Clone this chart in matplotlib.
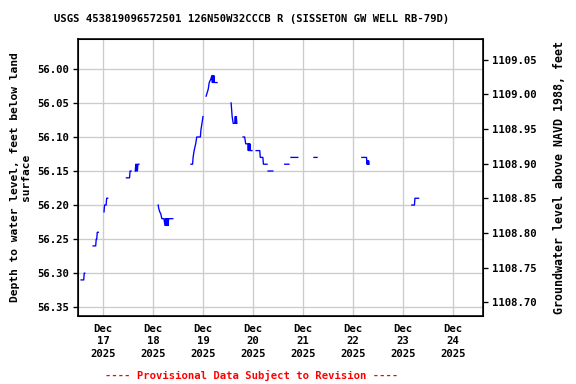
import numpy as np
import pandas as pd
import matplotlib
matplotlib.use("Agg")
import matplotlib.pyplot as plt

# Readings (depth below land surface, ft); None marks a gap in the record
times = [
    "2025-12-16 13:30", "2025-12-16 14:45", "2025-12-16 15:00", "2025-12-16 15:15", None,
    "2025-12-16 19:15", "2025-12-16 20:30", "2025-12-16 20:45", "2025-12-16 21:00",
    "2025-12-16 21:15", "2025-12-16 21:45", None,
    "2025-12-17 00:30", "2025-12-17 00:45", "2025-12-17 01:30", "2025-12-17 01:45",
    "2025-12-17 02:15", None,
    "2025-12-17 11:15", "2025-12-17 12:45", "2025-12-17 13:00", "2025-12-17 13:30", None,
    "2025-12-17 15:30", "2025-12-17 15:45", "2025-12-17 16:00", "2025-12-17 16:15",
    "2025-12-17 16:30", "2025-12-17 16:45", "2025-12-17 17:15", None,
    "2025-12-18 02:30", "2025-12-18 02:45", "2025-12-18 03:15", "2025-12-18 03:45",
    "2025-12-18 04:15", "2025-12-18 05:15", "2025-12-18 05:45", "2025-12-18 06:00",
    "2025-12-18 06:15", "2025-12-18 06:30", "2025-12-18 06:45", "2025-12-18 07:00",
    "2025-12-18 07:15", "2025-12-18 07:30", "2025-12-18 09:30", None,
    "2025-12-18 18:15", "2025-12-18 19:00", "2025-12-18 19:15", "2025-12-18 19:45",
    "2025-12-18 20:30", "2025-12-18 21:00", "2025-12-18 22:45", "2025-12-18 23:00",
    "2025-12-18 23:30", "2025-12-19 00:00", None,
    "2025-12-19 01:30", "2025-12-19 02:00", "2025-12-19 02:30", "2025-12-19 03:00",
    "2025-12-19 03:45", "2025-12-19 04:15", "2025-12-19 04:30", "2025-12-19 04:45",
    "2025-12-19 05:00", "2025-12-19 05:15", "2025-12-19 05:30", "2025-12-19 06:45", None,
    "2025-12-19 13:30", "2025-12-19 13:45", "2025-12-19 14:00", "2025-12-19 14:30",
    "2025-12-19 15:15", "2025-12-19 15:30", "2025-12-19 15:45", "2025-12-19 16:00",
    "2025-12-19 16:15", None,
    "2025-12-19 19:15", "2025-12-19 20:00", "2025-12-19 20:15", "2025-12-19 20:30",
    "2025-12-19 21:30", "2025-12-19 21:45", "2025-12-19 22:00", "2025-12-19 22:15",
    "2025-12-19 22:30", "2025-12-19 22:45", "2025-12-19 23:30", None,
    "2025-12-20 01:30", "2025-12-20 03:15", "2025-12-20 03:30", "2025-12-20 04:45",
    "2025-12-20 05:00", "2025-12-20 06:45", None,
    "2025-12-20 07:15", "2025-12-20 09:30", None,
    "2025-12-20 15:15", "2025-12-20 17:15", None,
    "2025-12-20 18:15", "2025-12-20 21:30", None,
    "2025-12-21 05:15", "2025-12-21 06:45", None,
    "2025-12-22 04:15", "2025-12-22 06:30", "2025-12-22 06:45", "2025-12-22 07:00",
    "2025-12-22 07:15", "2025-12-22 07:30", "2025-12-22 07:45", None,
    "2025-12-23 04:15", "2025-12-23 05:30", "2025-12-23 05:45", "2025-12-23 07:30",
]
depth = [
    56.31, 56.31, 56.30, 56.30, None,
    56.26, 56.26, 56.25, 56.25, 56.24, 56.24, None,
    56.21, 56.20, 56.20, 56.19, 56.19, None,
    56.16, 56.16, 56.15, 56.15, None,
    56.15, 56.14, 56.15, 56.14, 56.15, 56.14, 56.14, None,
    56.20, 56.205, 56.21, 56.213, 56.22, 56.22, 56.23, 56.22,
    56.23, 56.22, 56.23, 56.22, 56.23, 56.22, 56.22, None,
    56.14, 56.14, 56.13, 56.12, 56.11, 56.10, 56.10, 56.09, 56.08, 56.07, None,
    56.04, 56.035, 56.03, 56.02, 56.015, 56.01, 56.02, 56.01, 56.02, 56.01, 56.02, 56.02, None,
    56.05, 56.06, 56.07, 56.08, 56.08, 56.07, 56.08, 56.07, 56.08, None,
    56.10, 56.10, 56.105, 56.11, 56.11, 56.12, 56.11, 56.12, 56.11, 56.12, 56.12, None,
    56.12, 56.12, 56.13, 56.13, 56.14, 56.14, None,
    56.15, 56.15, None,
    56.14, 56.14, None,
    56.13, 56.13, None,
    56.13, 56.13, None,
    56.13, 56.13, 56.14, 56.135, 56.14, 56.135, 56.14, None,
    56.20, 56.20, 56.19, 56.19,
]

day_ticks = ["2025-12-17", "2025-12-18", "2025-12-19", "2025-12-20",
             "2025-12-21", "2025-12-22", "2025-12-23", "2025-12-24"]
depth_ticks = [56.00, 56.05, 56.10, 56.15, 56.20, 56.25, 56.30, 56.35]
elev_ticks = [1108.70, 1108.75, 1108.80, 1108.85, 1108.90, 1108.95, 1109.00, 1109.05]

t = pd.to_datetime(pd.Series(times))
d = np.array([np.nan if v is None else v for v in depth])

mono = "DejaVu Sans Mono"
fs = 8.0

fig = plt.figure(figsize=(6, 4), dpi=96)
ax = fig.add_axes([0.1354, 0.1771, 0.7031, 0.7214])
ax.plot(t, d, color="#0000ff", lw=1.0)

ax.set_xlim(pd.Timestamp("2025-12-16 12:00"), pd.Timestamp("2025-12-24 14:24"))
ax.set_ylim(56.363, 55.956)
ax.set_yticks(depth_ticks)
ax.set_yticklabels([f"{v:.2f}" for v in depth_ticks], family=mono, weight="bold", fontsize=fs)
xt = pd.to_datetime(day_ticks)
ax.set_xticks(xt)
ax.set_xticklabels([f"Dec\n{x.day}\n{x.year}" for x in xt], family=mono, weight="bold",
                   fontsize=fs, linespacing=1.3)
ax.grid(True, color="#cccccc", lw=1.0)
ax.set_axisbelow(True)
ax.tick_params(axis="both", direction="out", length=4, width=1, pad=3)
ax.tick_params(axis="x", length=0, pad=6)
for s in ax.spines.values():
    s.set_linewidth(1.2)
ax.set_ylabel("Depth to water level, feet below land\nsurface", family=mono,
              weight="bold", fontsize=8.4, labelpad=4)

ax2 = ax.twinx()
ax2.set_ylim(1108.680, 1109.080)
ax2.set_yticks(elev_ticks)
ax2.set_yticklabels([f"{v:.2f}" for v in elev_ticks], family=mono, weight="bold", fontsize=fs)
ax2.tick_params(axis="y", direction="out", length=4, width=1, pad=3)
ax2.set_ylabel("Groundwater level above NAVD 1988, feet", family=mono, weight="bold",
               fontsize=8.7, labelpad=12)

fig.text(0.437, 0.95, "USGS 453819096572501 126N50W32CCCB R (SISSETON GW WELL RB-79D)",
         ha="center", va="center", family=mono, weight="bold", fontsize=7.9)
fig.text(0.437, 0.023, "---- Provisional Data Subject to Revision ----",
         ha="center", va="center", family=mono, weight="bold", fontsize=7.9, color="red")

fig.savefig("out.png", dpi=96)
